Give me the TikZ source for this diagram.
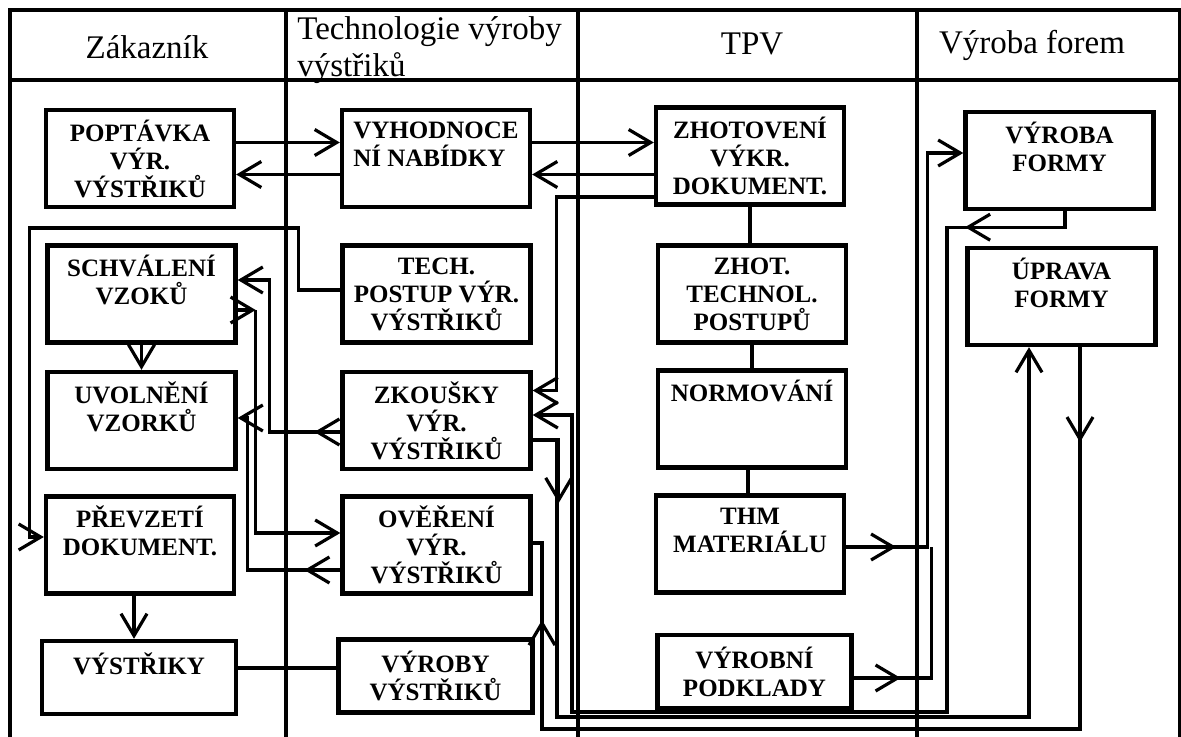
\documentclass[tikz,border=0pt]{standalone}
\usepackage{fontspec}
\setmainfont{Liberation Serif}
\usetikzlibrary{arrows.meta, positioning}

\begin{document}
\begin{tikzpicture}[
    x=0.5pt, y=-0.5pt,
    box/.style={draw, line width=2.2pt, minimum width=94pt, minimum height=48.5pt,
        inner sep=3pt, font=\fontsize{12.5}{14}\selectfont\bfseries, align=center},
    lowbox/.style={box, minimum width=97pt, minimum height=36.5pt},
    head/.style={font=\fontsize{16.5}{18.5}\selectfont, align=left, inner sep=0pt},
    frame/.style={line width=1.6pt},
    wire/.style={line width=1.6pt},
    arr/.style={wire, -{Straight Barb[length=11pt, width=13pt]}}
]
\useasboundingbox (0,0) rectangle (1181,737);

% swimlanes
\draw[frame] (10,737) -- (10,10) -- (1180,10) -- (1180,737);
\draw[frame] (10,80) -- (1180,80);
\foreach \x in {286,578,917}
    \draw[frame] (\x,10) -- (\x,737);

\node[head] (hzak) at (147,47) {Zákazník};
\node[head, anchor=west] (htech) at (297,50) {Technologie výroby\\výstřiků};
\node[head] (htpv) at (752,44) {TPV};
\node[head] (hvf) at (1032,45) {Výroba forem};

% Zakaznik
\node[box] (popt) at (140,158.5) {POPTÁVKA\\VÝR.\\VÝSTŘIKŮ};
\node[box] (schv) at (141.5,294) {SCHVÁLENÍ\\VZOKŮ\\~};
\node[box] (uvol) at (141.5,420.5) {UVOLNĚNÍ\\VZORKŮ\\~};
\node[box] (prev) at (140,545) {PŘEVZETÍ\\DOKUMENT.\\~};
\node[lowbox] (vyst) at (139,677.5) {VÝSTŘIKY\\~};

% technologie
\node[box, align=left] (vyhod) at (436,158.5) {VYHODNOCE\\NÍ NABÍDKY\\~};
\node[box] (tech) at (436.5,294) {TECH.\\POSTUP VÝR.\\VÝSTŘIKŮ};
\node[box] (zkou) at (436.5,420.5) {ZKOUŠKY\\VÝR.\\VÝSTŘIKŮ};
\node[box] (over) at (436.5,545) {OVĚŘENÍ\\VÝR.\\VÝSTŘIKŮ};
\node[lowbox] (vyrv) at (435.5,676) {VÝROBY\\VÝSTŘIKŮ};

% TPV
\node[box] (zhot) at (750,156) {ZHOTOVENÍ\\VÝKR.\\DOKUMENT.};
\node[box] (ztech) at (752,294) {ZHOT.\\TECHNOL.\\POSTUPŮ};
\node[box] (norm) at (752,419) {NORMOVÁNÍ\\~\\~};
\node[box] (thm) at (750,544) {THM\\MATERIÁLU\\~};
\node[lowbox] (vpod) at (754.5,671.5) {VÝROBNÍ\\PODKLADY};

% vyroba forem
\node[box] (vfor) at (1059.5,160.5) {VÝROBA\\FORMY\\~};
\node[box] (upr) at (1061.5,296.5) {ÚPRAVA\\FORMY\\~};

% bends at the bottom
\coordinate (d1) at (572,712);
\coordinate (d2) at (557,717);
\coordinate (d3) at (542,729);

% top row
\draw[arr] ([yshift=8pt]popt.east) -- ([yshift=8pt]popt.east -| vyhod.west);
\draw[arr] ([yshift=-8pt]vyhod.west) -- ([yshift=-8pt]vyhod.west -| popt.east);
\draw[arr] ([yshift=8pt]vyhod.east) -- ([yshift=8pt]vyhod.east -| zhot.west);
\draw[arr] ([yshift=-8pt]vyhod.east -| zhot.west) -- ([yshift=-8pt]vyhod.east);
\draw[arr] ([yshift=-20.5pt]zhot.west) -| ([xshift=12pt,yshift=15pt]zkou.east) -- ([yshift=15pt]zkou.east);

% zakaznik column
\draw[arr] (schv.south) -- (uvol.north);
\draw[arr] ([xshift=-3pt]prev.south) -- ([xshift=-3pt]prev.south |- vyst.north);
\draw[wire] ([yshift=4.75pt]vyst.east) -- ([yshift=4.75pt]vyst.east -| vyrv.west);
\draw[arr] ([yshift=2pt]tech.west) -- ++(-42,0) |- ++(-269,-62) |- ([yshift=4pt]prev.west);

% zkousky / overeni back to zakaznik
\draw[arr] ([yshift=-5.75pt]zkou.west) -- ++(-26,0);
\draw[arr] ([yshift=-5.75pt]zkou.west) -| ([xshift=16pt,yshift=7pt]schv.east) -- ([yshift=7pt]schv.east);
\draw[arr] ([yshift=-8pt]schv.east) -- ++(18,0) coordinate (sv);
\draw[arr] (sv) |- ([yshift=6pt]over.west);
\draw[arr] ([yshift=-12.5pt]over.west) -- ++(-36,0);
\draw[arr] ([yshift=-12.5pt]over.west) -| ([xshift=5pt,yshift=1.25pt]uvol.east) -- ([yshift=1.25pt]uvol.east);

% TPV chain
\draw[wire] (zhot.south) -- (zhot.south |- ztech.north);
\draw[wire] (ztech.south) -- (ztech.south |- norm.north);
\draw[wire] ([xshift=-2pt]norm.south) -- ([xshift=-2pt]norm.south |- thm.north);
\draw[arr] ([yshift=-1.5pt]thm.east) -- ++(50,0);
\draw[arr] ([yshift=-1.5pt]thm.east) -| ([xshift=-18pt,yshift=3.75pt]vfor.west) -- ([yshift=3.75pt]vfor.west);
\draw[arr] ([yshift=-3.25pt]vpod.east) -- ++(47,0);
\draw[wire] ([yshift=-3.25pt]vpod.east) -| ([xshift=42.5pt,yshift=-1.5pt]thm.east);

% forms and tests
\draw[arr] ([xshift=2.75pt]vfor.south) |- ++(-100,16);
\draw[arr] ([xshift=2.75pt]vfor.south) |- ++(-118,16) |- (d1) |- ([yshift=2.75pt]zkou.east);
\draw[arr] ([yshift=-9.75pt]zkou.east) -| ++(26,63);
\draw[arr] ([yshift=-9.75pt]zkou.east) -| (d2) -| ([xshift=-16.25pt]upr.south);
\draw[arr] ([xshift=9.25pt]upr.south) -- ++(0,95);
\draw[wire] ([xshift=9.25pt]upr.south) |- (d3) |- ([yshift=1pt]over.east);
\draw[arr] (d3) -- ++(0,-109);

\end{tikzpicture}
\end{document}
